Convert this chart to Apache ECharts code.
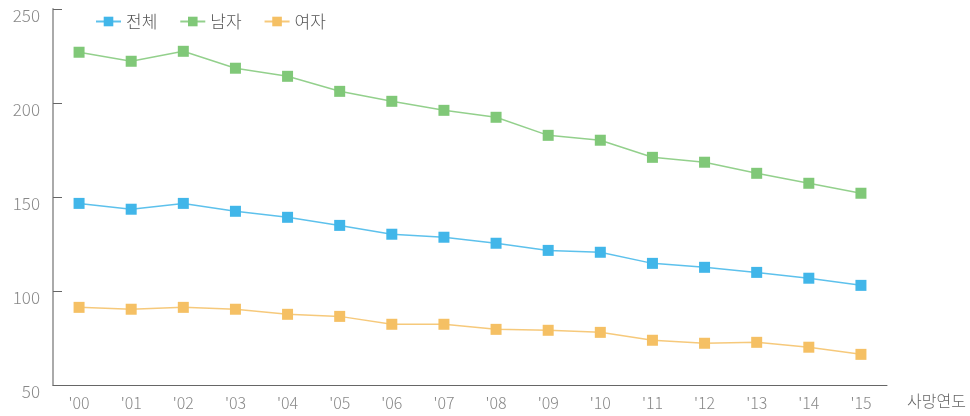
<!DOCTYPE html>
<html><head><meta charset="utf-8">
<script src="https://cdn.jsdelivr.net/npm/echarts@6/dist/echarts.min.js"></script>
<style>html,body{margin:0;padding:0;background:#fff}#c{width:970px;height:416px}</style>
</head><body><div id="c"></div>
<script>
const categories = ["'00","'01","'02","'03","'04","'05","'06","'07","'08","'09","'10","'11","'12","'13","'14","'15"];
const seriesNames = ["전체","남자","여자"];
const totalValues = [146.6,143.5,146.6,142.4,139.2,134.9,130.2,128.6,125.4,121.6,120.6,114.7,112.6,109.9,106.8,103.0];
const maleValues = [227.0,222.2,227.5,218.5,214.2,206.2,200.9,196.1,192.4,182.8,180.2,171.1,168.5,162.6,157.3,152.0];
const femaleValues = [91.3,90.3,91.3,90.3,87.6,86.5,82.3,82.3,79.6,79.1,78.0,73.8,72.2,72.7,70.1,66.3];
const yTicks = [50,100,150,200,250];
const xAxisName = "사망연도";

const colors = ['#41b6e9','#80c878','#f5c064'];
const font = '"Noto Sans CJK KR", "Noto Sans", sans-serif';
const chart = echarts.init(document.getElementById('c'));
function mk(name, data, color){
  return {name, type:'line', data, symbol:'rect', symbolSize:11,
    itemStyle:{color}, lineStyle:{color, width:1.5, opacity:0.85},
    emphasis:{disabled:true}, animation:false};
}
chart.setOption({
  animation:false,
  textStyle:{fontFamily:font},
  legend:{left:90, top:8, itemWidth:25, itemHeight:12, itemGap:22,
    textStyle:{fontSize:17, color:'#555', fontFamily:font, fontWeight:300},
    data:seriesNames},
  grid:{left:53, right:83, top:9, bottom:31, containLabel:false},
  xAxis:{type:'category', data:categories, boundaryGap:true,
    name:xAxisName, nameLocation:'end', nameGap:20,
    nameTextStyle:{fontSize:16, color:'#666', fontFamily:font, fontWeight:300, verticalAlign:'top', padding:[8,0,0,0]},
    axisLine:{lineStyle:{color:'#666', width:1}},
    axisTick:{inside:true, length:9, lineStyle:{color:'#777'}},
    axisLabel:{fontSize:16, color:'#888', margin:10, fontFamily:font, fontWeight:300}},
  yAxis:{type:'value', min:yTicks[0], max:yTicks[yTicks.length-1], interval:50,
    splitLine:{show:false},
    axisLine:{show:true, lineStyle:{color:'#aaa', width:2}},
    axisTick:{show:true, inside:true, length:9, lineStyle:{color:'#666'}},
    axisLabel:{fontSize:17, color:'#888', margin:13, verticalAlign:'top', lineHeight:14, fontFamily:font, fontWeight:300}},
  series:[mk(seriesNames[0], totalValues, colors[0]), mk(seriesNames[1], maleValues, colors[1]), mk(seriesNames[2], femaleValues, colors[2])]
});
</script></body></html>
